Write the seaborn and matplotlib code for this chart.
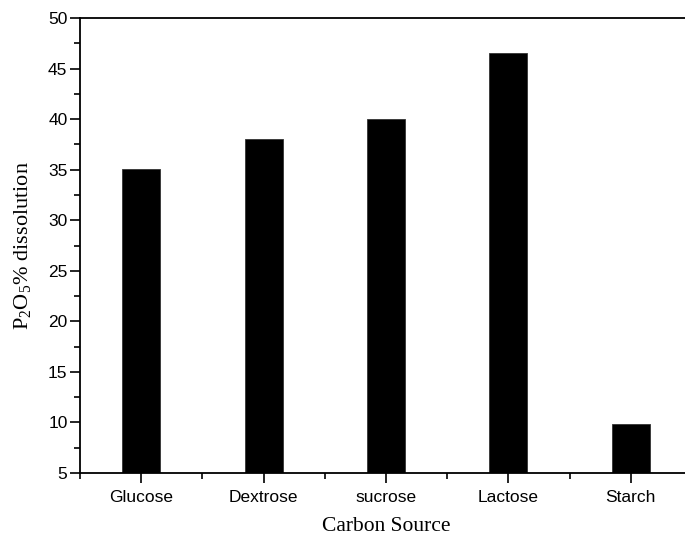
import matplotlib
matplotlib.use("Agg")
import matplotlib.pyplot as plt
from matplotlib.ticker import MultipleLocator, FixedLocator
import seaborn as sns
import pandas as pd

# Carbon source screening: phosphate solubilisation
carbon_sources = ["Glucose", "Dextrose", "sucrose", "Lactose", "Starch"]
p2o5_dissolution = [35.1, 38.0, 40.0, 46.5, 9.8]

df = pd.DataFrame({"source": carbon_sources, "value": p2o5_dissolution})

sns.set_theme(style="ticks")
plt.rcParams["font.family"] = ["Liberation Sans", "DejaVu Sans"]
plt.rcParams["mathtext.fontset"] = "custom"
plt.rcParams["mathtext.rm"] = "Liberation Serif"
plt.rcParams["mathtext.it"] = "Liberation Serif:italic"

W, H = 685, 542
fig = plt.figure(figsize=(W / 100, H / 100), dpi=100)
left, right, top, bottom = 80, 692, 18, 473
ax = fig.add_axes([left / W, (H - bottom) / H, (right - left) / W, (bottom - top) / H])

sns.barplot(data=df, x="source", y="value", color="black", width=0.31,
            saturation=1, edgecolor="#333333", linewidth=0.6, ax=ax)

ax.set_ylim(5, 50)
ax.set_xlim(-0.5, 4.5)
ax.yaxis.set_major_locator(MultipleLocator(5))
ax.yaxis.set_minor_locator(MultipleLocator(2.5))
ax.xaxis.set_minor_locator(FixedLocator([i + 0.5 for i in range(-1, len(carbon_sources))]))

for s in ax.spines.values():
    s.set_linewidth(1.3)
    s.set_color("black")
    s.set_visible(True)

ax.tick_params(axis="both", which="major", direction="out", length=7, width=1.2,
               colors="black", labelsize=12.5, pad=2)
ax.tick_params(axis="both", which="minor", direction="out", length=4, width=1.2,
               colors="black")
ax.tick_params(axis="x", which="major", pad=5)

serif = ["Liberation Serif", "DejaVu Serif"]
ax.set_xlabel("Carbon Source", fontsize=15.5, family=serif, color="black", labelpad=9)
ax.set_ylabel(r"$\mathrm{P_{2}O_{5}}$% dissolution", fontsize=16, family=serif,
              color="black", labelpad=11)

fig.savefig("out.png", dpi=100)
